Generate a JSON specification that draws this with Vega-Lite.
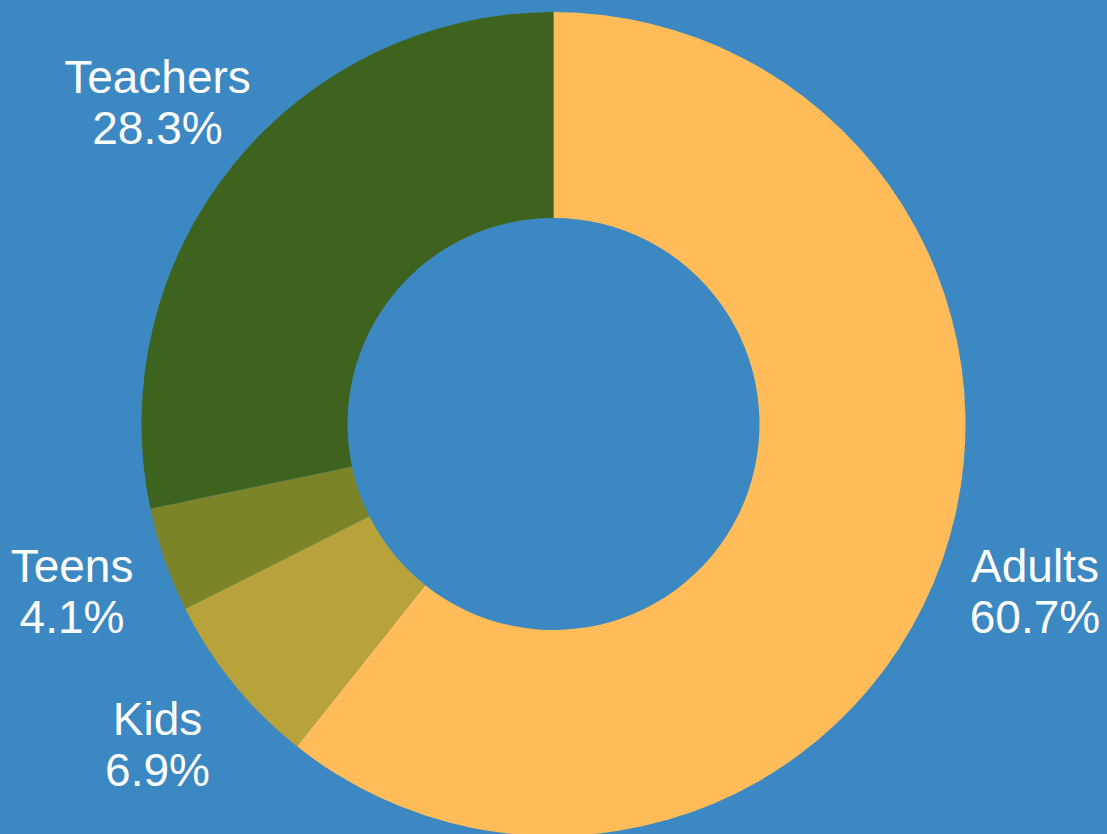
{
  "$schema": "https://vega.github.io/schema/vega-lite/v6.json",
  "width": 1107,
  "height": 820,
  "autosize": "none",
  "padding": {"top": 14, "bottom": 0, "left": 0, "right": 0},
  "background": "#3b88c2",
  "view": {"stroke": null},
  "data": {
    "values": [
      {"group": "Adults", "share": 60.7},
      {"group": "Kids", "share": 6.9},
      {"group": "Teens", "share": 4.1},
      {"group": "Teachers", "share": 28.3}
    ]
  },
  "transform": [
    {"window": [{"op": "row_number", "as": "idx"}]},
    {"calculate": "[datum.group, format(datum.share, '.1f') + '%']", "as": "label"}
  ],
  "encoding": {
    "theta": {"field": "share", "type": "quantitative", "stack": true},
    "order": {"field": "idx", "type": "quantitative"}
  },
  "layer": [
    {
      "mark": {"type": "arc", "innerRadius": 206, "outerRadius": 412},
      "encoding": {
        "color": {
          "field": "group",
          "type": "nominal",
          "scale": {
            "domain": ["Adults", "Kids", "Teens", "Teachers"],
            "range": ["#ffbc58", "#b8a33b", "#7b8429", "#3e631e"]
          },
          "legend": null
        }
      }
    },
    {
      "mark": {
        "type": "text",
        "radius": 510,
        "font": "Liberation Sans",
        "fontSize": 46,
        "lineHeight": 51,
        "dy": -24,
        "color": "white",
        "align": "center",
        "baseline": "middle"
      },
      "encoding": {
        "text": {"field": "label"}
      }
    }
  ]
}
